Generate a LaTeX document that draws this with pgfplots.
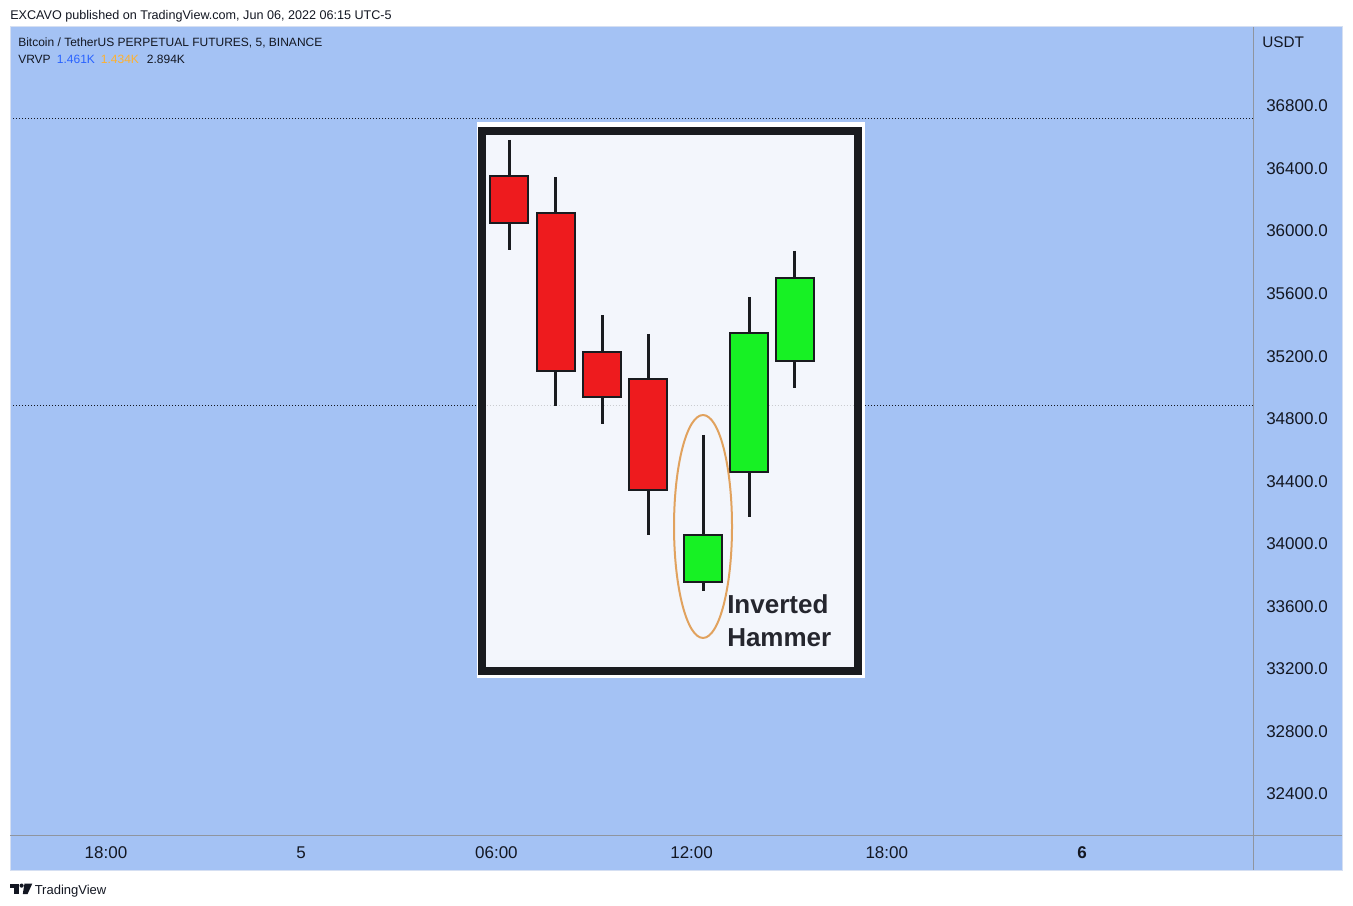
\documentclass[border=0pt]{standalone}
\usepackage{fontspec}
\setmainfont{Liberation Sans}
\usepackage{pgfplots}
\pgfplotsset{compat=1.18}

\definecolor{pane}{HTML}{A4C2F4}
\definecolor{panebord}{HTML}{D5DFF2}
\definecolor{sep}{HTML}{8F959F}
\definecolor{ink}{HTML}{131722}
\definecolor{tvblue}{HTML}{2962FF}
\definecolor{tvorange}{HTML}{FFB12E}
\definecolor{candred}{HTML}{EE1B1E}
\definecolor{candgreen}{HTML}{17F124}
\definecolor{edge}{HTML}{191B1F}
\definecolor{imgbg}{HTML}{F3F6FC}
\definecolor{ring}{HTML}{E1A25E}
\definecolor{hammer}{HTML}{25262E}

\tikzset{
  wick/.style={edge, line width=2.25pt},
  redbody/.style={fill=candred, draw=edge, line width=1.6pt},
  greenbody/.style={fill=candgreen, draw=edge, line width=1.6pt},
  priceline/.style={ink, line width=0.75pt, dash pattern=on 0.75pt off 1.5pt},
}

\begin{document}
\begin{tikzpicture}
% page and chart pane, in screen pixels
\begin{scope}[x=0.75pt,y=-0.75pt]
  \fill[white] (0,0) rectangle (1353,906);
  \fill[pane] (10,27) rectangle (1342,870);
\end{scope}

\begin{axis}[
  at={(7.5pt,-20.25pt)}, anchor=north west,
  scale only axis, width=932.25pt, height=606pt,
  xmin=-2.951, xmax=35.257,
  ymin=32137.8, ymax=37305.2,
  axis line style={draw=none},
  major tick length=0pt,
  scaled ticks=false,
  xtick={0,6,12,18,24,30},
  xticklabels={18:00,5,06:00,12:00,18:00,\textbf{6}},
  xticklabel style={anchor=base, inner sep=0pt, yshift=-17.25pt},
  ytick={32400,32800,...,36800},
  yticklabels={32400.0,32800.0,33200.0,33600.0,34000.0,34400.0,34800.0,35200.0,35600.0,36000.0,36400.0,36800.0},
  yticklabel pos=right,
  yticklabel style={anchor=west, inner sep=0pt, xshift=9.75pt},
  ticklabel style={font=\fontsize{12.75}{15}\selectfont, text=ink},
  unbounded coords=jump,
]
% horizontal price lines
\addplot[priceline] coordinates {(-2.951,36717) (35.257,36717)};
\addplot[priceline] coordinates {(-2.951,34881.5) (35.257,34881.5)};

% pasted picture: white border, black frame
\addplot[fill=white, draw=none] coordinates {(11.395,36697.7) (23.330,36697.7) (23.330,33143.8) (11.395,33143.8)} --cycle;
\addplot[fill=imgbg, draw=edge, line width=5.6pt] coordinates {(11.557,36638.8) (23.109,36638.8) (23.109,33185.4) (11.557,33185.4)} --cycle;
\addplot[gray, opacity=0.35, line width=0.75pt, dash pattern=on 0.75pt off 1.5pt] coordinates {(11.70,34881.5) (22.97,34881.5)};

% wicks: high to low
\addplot[wick] coordinates {
  (12.397,36583) (12.397,35879) (12.397,nan)
  (13.823,36344) (13.823,34881) (13.823,nan)
  (15.246,35461) (15.246,34764) (15.246,nan)
  (16.669,35342) (16.669,34056) (16.669,nan)
  (18.360,34696) (18.360,33698) (18.360,nan)
  (19.765,35580) (19.765,34173) (19.765,nan)
  (21.178,35873) (21.178,34997)
};

% bodies: open / close
\addplot[redbody] coordinates {(11.813,36352) (12.981,36352) (12.981,36052) (11.813,36052)} --cycle;
\addplot[redbody] coordinates {(13.239,36118) (14.407,36118) (14.407,35107) (13.239,35107)} --cycle;
\addplot[redbody] coordinates {(14.662,35229) (15.830,35229) (15.830,34937) (14.662,34937)} --cycle;
\addplot[redbody] coordinates {(16.085,35052) (17.253,35052) (17.253,34344) (16.085,34344)} --cycle;
\addplot[greenbody] coordinates {(17.776,33756) (18.944,33756) (18.944,34054) (17.776,34054)} --cycle;
\addplot[greenbody] coordinates {(19.181,34461) (20.349,34461) (20.349,35350) (19.181,35350)} --cycle;
\addplot[greenbody] coordinates {(20.594,35169) (21.762,35169) (21.762,35702) (20.594,35702)} --cycle;

\draw[ring, line width=1.5pt] (axis cs:18.351,34110.8) ellipse [x radius=21.75pt, y radius=83.6pt];
\node[anchor=base west, inner sep=0pt, text=hammer, font=\fontsize{19.5}{23}\selectfont\bfseries]
  at (axis cs:19.088,33555.7) {Inverted};
\node[anchor=base west, inner sep=0pt, text=hammer, font=\fontsize{19.5}{23}\selectfont\bfseries]
  at (axis cs:19.088,33342) {Hammer};
\end{axis}

\begin{scope}[x=0.75pt,y=-0.75pt]
  \draw[panebord, line width=0.75pt] (10,27) rectangle (1342,870);
  \draw[sep, line width=0.75pt] (1253,27) -- (1253,870);
  \draw[sep, line width=0.75pt] (10,835) -- (1342,835);

  \node[anchor=base west, inner sep=0pt, text=ink, font=\fontsize{9.45}{11}\selectfont]
    at (10,20) {EXCAVO published on TradingView.com, Jun 06, 2022 06:15 UTC-5};
  \node[anchor=base west, inner sep=0pt, text=ink, font=\fontsize{9}{11}\selectfont]
    at (18,46.7) {Bitcoin / TetherUS PERPETUAL FUTURES, 5, BINANCE};
  \node[anchor=base west, inner sep=0pt, text=ink, font=\fontsize{9}{11}\selectfont]
    at (18,64) {VRVP};
  \node[anchor=base west, inner sep=0pt, text=tvblue, font=\fontsize{9}{11}\selectfont]
    at (56.7,64) {1.461K};
  \node[anchor=base west, inner sep=0pt, text=tvorange, font=\fontsize{9}{11}\selectfont]
    at (100.7,64) {1.434K};
  \node[anchor=base west, inner sep=0pt, text=ink, font=\fontsize{9}{11}\selectfont]
    at (146.7,64) {2.894K};
  \node[anchor=base west, inner sep=0pt, text=ink, font=\fontsize{11.5}{13}\selectfont]
    at (1262,47.7) {USDT};

  % TradingView mark and name
  \fill[ink] (10,883.5) rectangle (18.5,887.5);
  \fill[ink] (14,883.5) rectangle (18.5,894);
  \fill[ink] (21.6,885.6) circle (2.1);
  \fill[ink] (24.5,883.5) -- (32.3,883.5) -- (27.6,894) -- (22.8,894) -- cycle;
  \node[anchor=base west, inner sep=0pt, text=ink, font=\fontsize{9.75}{12}\selectfont]
    at (34.5,894.3) {TradingView};
\end{scope}

% fix the page to the screenshot's size
\pgfresetboundingbox
\path[use as bounding box] (0pt,0pt) rectangle (1014.75pt,-679.5pt);
\end{tikzpicture}
\end{document}
